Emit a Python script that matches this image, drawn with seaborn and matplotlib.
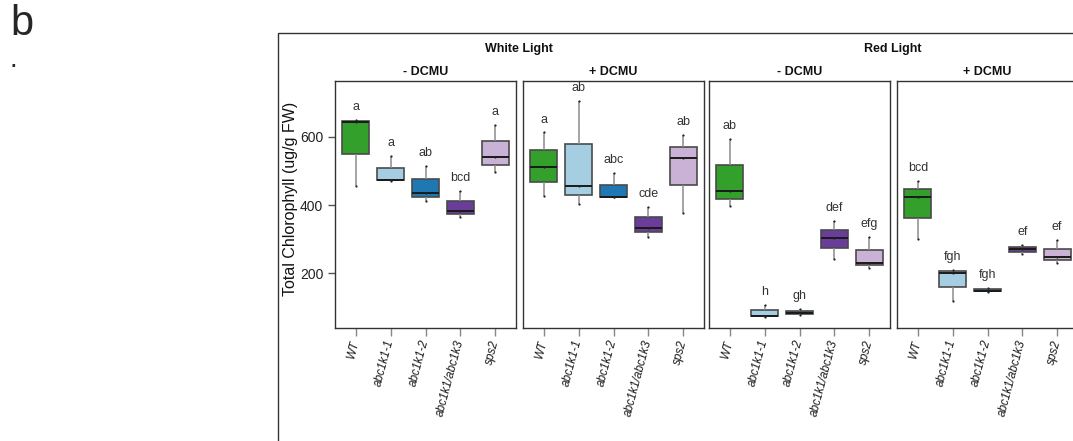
import matplotlib
matplotlib.use("Agg")
import matplotlib.pyplot as plt
import matplotlib.patches as mpatches
import seaborn as sns
import pandas as pd

genotypes = ["WT", "abc1k1-1", "abc1k1-2", "abc1k1/abc1k3", "sps2"]
colors = ["#33a02c", "#a6cee3", "#1f78b4", "#6a3d9a", "#cab2d6"]

# three replicates per genotype, ug/g FW
white_minus = [[456, 645, 650], [472, 474, 543], [412, 436, 514], [366, 384, 441], [497, 541, 635]]
white_plus = [[427, 511, 613], [403, 456, 705], [423, 425, 495], [307, 334, 395], [377, 538, 605]]
red_minus = [[398, 440, 594], [72, 75, 108], [78, 83, 96], [243, 302, 354], [215, 231, 307]]
red_plus = [[299, 425, 470], [117, 200, 210], [146, 149, 156], [256, 271, 282], [231, 247, 297]]

white_minus_letters = ["a", "a", "ab", "bcd", "a"]
white_plus_letters = ["a", "ab", "abc", "cde", "ab"]
red_minus_letters = ["ab", "h", "gh", "def", "efg"]
red_plus_letters = ["bcd", "fgh", "fgh", "ef", "ef"]

panels = [("- DCMU", white_minus, white_minus_letters),
          ("+ DCMU", white_plus, white_plus_letters),
          ("- DCMU", red_minus, red_minus_letters),
          ("+ DCMU", red_plus, red_plus_letters)]

sns.set_theme(style="white")
plt.rcParams["font.family"] = ["Liberation Sans", "DejaVu Sans"]

fig = plt.figure(figsize=(10.73, 4.41), dpi=100)

W, H = 1073.0, 441.0
lefts = [335, 523, 709, 897]
pw = 181
bottom = 1 - 327.7 / H
height = (327.7 - 80.7) / H
pal = dict(zip(genotypes, colors))

for i, (sub, vals, letters) in enumerate(panels):
    rows = []
    for g, v in zip(genotypes, vals):
        for x in v:
            rows.append({"genotype": g, "chl": x})
    df = pd.DataFrame(rows)
    ax = fig.add_axes([lefts[i] / W, bottom, pw / W, height])
    sns.boxplot(data=df, x="genotype", y="chl", order=genotypes, hue="genotype",
                palette=pal, saturation=1, legend=False, width=0.77, linewidth=1.2,
                showcaps=False, fliersize=0, whis=10, linecolor="#4a4a4a",
                whiskerprops=dict(color="#8c8c8c", linewidth=1.1),
                medianprops=dict(color="#1a1a1a", linewidth=1.4), ax=ax)
    sns.stripplot(data=df, x="genotype", y="chl", order=genotypes, jitter=False,
                  color="#222222", size=1.6, ax=ax)
    for j, (g, v) in enumerate(zip(genotypes, vals)):
        ax.text(j, max(v) + 38, letters[j], ha="center", va="center",
                fontsize=9, color="#333333")
    ax.set_xlim(-0.6, 4.6)
    ax.set_ylim(40, 765)
    ax.set_xlabel("")
    ax.set_title(sub, fontsize=9, fontweight="bold", pad=4, color="#111111")
    ax.set_xticks(range(5))
    ax.set_xticklabels(genotypes, rotation=75, ha="right", va="center",
                       rotation_mode="anchor", fontstyle="italic", fontsize=8.5,
                       color="#1a1a1a")
    ax.tick_params(axis="x", length=6, width=1, color="#888888", pad=3, bottom=True)
    for s in ax.spines.values():
        s.set_color("#333333")
        s.set_linewidth(1)
    if i == 0:
        ax.set_yticks([200, 400, 600])
        ax.tick_params(axis="y", length=5, width=1, color="#555555", labelsize=10,
                       left=True, labelcolor="#222222")
        ax.set_ylabel("Total Chlorophyll (ug/g FW)", fontsize=11.5, color="#111111")
        ax.yaxis.set_label_coords((298 - 335) / pw, 0.52)
    else:
        ax.set_yticks([])
        ax.set_ylabel("")

fig.text(519 / W, 1 - 49 / H, "White Light", ha="center", va="center",
         fontsize=9, fontweight="bold", color="#111111")
fig.text(893 / W, 1 - 49 / H, "Red Light", ha="center", va="center",
         fontsize=9, fontweight="bold", color="#111111")

fig.patches.append(mpatches.Rectangle((278 / W, -0.1), 1, 1.1 - 33 / H, fill=False,
                                      edgecolor="#333333", linewidth=1,
                                      transform=fig.transFigure, figure=fig))

fig.text(10 / W, 1 - 24 / H, "b", ha="left", va="center", fontsize=30)
fig.text(10 / W, 1 - 60 / H, ".", ha="left", va="center", fontsize=20)

fig.savefig("out.png", dpi=100)
